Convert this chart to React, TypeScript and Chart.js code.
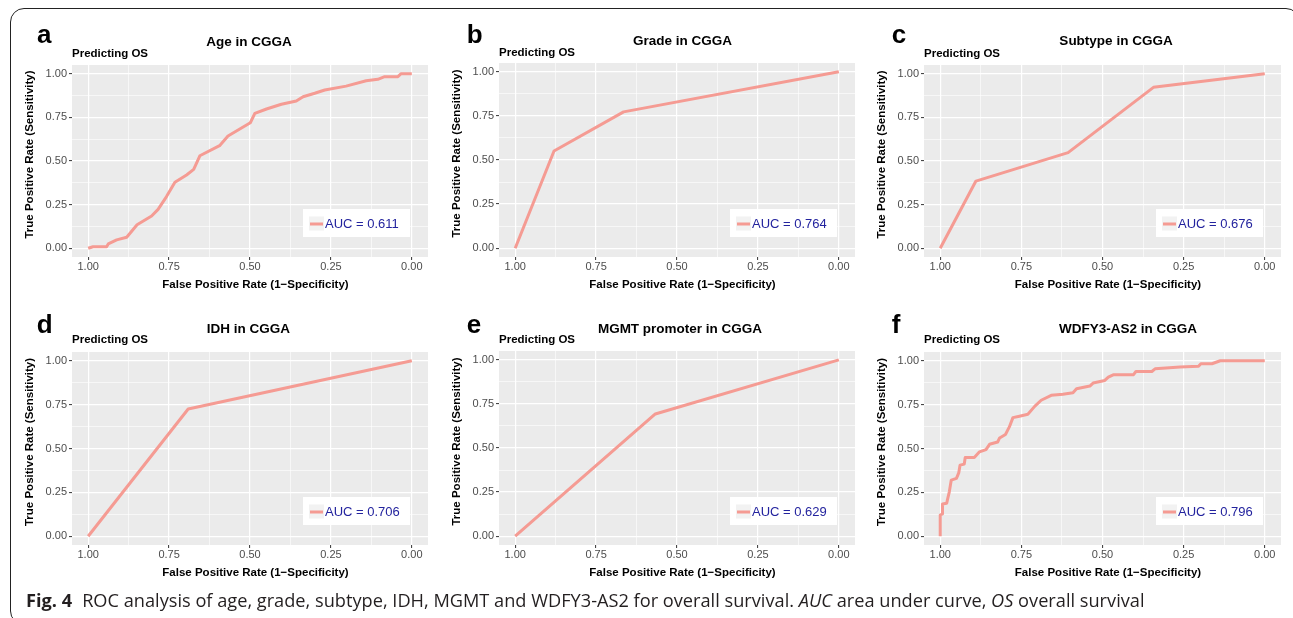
import React, { useEffect, useRef } from "react";
import { Chart, registerables } from "chart.js";

Chart.register(...registerables);

// ---------- DATA ----------
const axisTicks = [0, 0.125, 0.25, 0.375, 0.5, 0.625, 0.75, 0.875, 1];

const ageSpec = [1.0, 0.985, 0.943, 0.938, 0.912, 0.881, 0.849, 0.804, 0.784, 0.758, 0.732, 0.696, 0.674, 0.655, 0.594, 0.568, 0.499, 0.485, 0.449, 0.403, 0.357, 0.336, 0.3, 0.269, 0.203, 0.141, 0.105, 0.084, 0.043, 0.033, 0.0];
const ageSens = [0, 0.009, 0.009, 0.025, 0.048, 0.063, 0.135, 0.185, 0.223, 0.296, 0.378, 0.42, 0.452, 0.53, 0.588, 0.643, 0.719, 0.773, 0.798, 0.825, 0.844, 0.868, 0.888, 0.907, 0.929, 0.96, 0.968, 0.983, 0.983, 1.0, 1.0];

const gradeSpec = [1.0, 0.88, 0.665, 0.0];
const gradeSens = [0, 0.551, 0.773, 1.0];

const subtypeSpec = [1.0, 0.89, 0.606, 0.343, 0.0];
const subtypeSens = [0, 0.385, 0.548, 0.922, 1.0];

const idhSpec = [1.0, 0.691, 0.0];
const idhSens = [0, 0.725, 1.0];

const mgmtSpec = [1.0, 0.567, 0.0];
const mgmtSens = [0, 0.693, 1.0];

const wdfySpec = [1.0, 1.0, 0.993, 0.993, 0.98, 0.978, 0.972, 0.966, 0.95, 0.943, 0.939, 0.926, 0.923, 0.895, 0.879, 0.859, 0.848, 0.823, 0.817, 0.799, 0.787, 0.776, 0.756, 0.73, 0.709, 0.689, 0.658, 0.622, 0.591, 0.58, 0.539, 0.529, 0.493, 0.482, 0.467, 0.405, 0.397, 0.348, 0.338, 0.261, 0.204, 0.197, 0.163, 0.137, 0.0];
const wdfySens = [0, 0.121, 0.127, 0.184, 0.188, 0.206, 0.253, 0.32, 0.33, 0.361, 0.405, 0.411, 0.449, 0.449, 0.481, 0.494, 0.524, 0.537, 0.56, 0.58, 0.623, 0.676, 0.684, 0.695, 0.74, 0.775, 0.803, 0.809, 0.818, 0.841, 0.856, 0.873, 0.888, 0.907, 0.92, 0.92, 0.939, 0.939, 0.954, 0.964, 0.969, 0.983, 0.983, 1.0, 1.0];

const panelLetters = ["a", "b", "c", "d", "e", "f"];
const panelTitles = ["Age in CGGA", "Grade in CGGA", "Subtype in CGGA", "IDH in CGGA", "MGMT promoter in CGGA", "WDFY3-AS2 in CGGA"];
const aucLabels = ["AUC = 0.611", "AUC = 0.764", "AUC = 0.676", "AUC = 0.706", "AUC = 0.629", "AUC = 0.796"];
const subtitleText = "Predicting OS";
const xAxisTitle = "False Positive Rate (1\u2212Specificity)";
const yAxisTitle = "True Positive Rate (Sensitivity)";

const seriesX = [ageSpec, gradeSpec, subtypeSpec, idhSpec, mgmtSpec, wdfySpec];
const seriesY = [ageSens, gradeSens, subtypeSens, idhSens, mgmtSens, wdfySens];

// ---------- STYLE / LAYOUT ----------
const FONT = "'Liberation Sans', Arial, Helvetica, sans-serif";
const LINE_COLOR = "#F59B93";
const PANEL_BG = "#EBEBEB";
const AUC_COLOR = "#23239E";

const PAD_LEFT = 62; // y-axis width
const PAD_TOP = 60;
const PAD_RIGHT = 6;
const PAD_BOTTOM = 40; // x-axis height

const layouts = [
  { L: 72, T: 65, R: 428, B: 257, titleX: 249, titleY: 42, subY: 54, letterX: 37, letterBase: 43 },
  { L: 499, T: 63, R: 855, B: 257, titleX: 682.5, titleY: 41.7, subY: 52.7, letterX: 466.7, letterBase: 43 },
  { L: 924, T: 65, R: 1281, B: 257, titleX: 1116, titleY: 41.7, subY: 54, letterX: 891.7, letterBase: 43 },
  { L: 72, T: 352, R: 428, B: 545, titleX: 248.3, titleY: 329.3, subY: 340, letterX: 36.7, letterBase: 333 },
  { L: 499, T: 351, R: 855, B: 545, titleX: 680, titleY: 329.3, subY: 340, letterX: 466.7, letterBase: 333 },
  { L: 924, T: 352, R: 1281, B: 545, titleX: 1128, titleY: 329.3, subY: 340, letterX: 891.7, letterBase: 333 },
];

function Panel({ idx }: { idx: number }) {
  const ref = useRef<HTMLCanvasElement | null>(null);
  const lay = layouts[idx];
  const cl = lay.L - PAD_LEFT;
  const ct = lay.T - PAD_TOP;
  const cw = lay.R - lay.L + PAD_LEFT + PAD_RIGHT;
  const ch = lay.B - lay.T + PAD_TOP + PAD_BOTTOM;

  useEffect(() => {
    const canvas = ref.current;
    if (!canvas) return;
    const xs = seriesX[idx];
    const ys = seriesY[idx];

    const decor = {
      id: "panelDecor",
      beforeDraw(chart: any) {
        const { ctx, chartArea: a } = chart;
        ctx.save();
        ctx.fillStyle = PANEL_BG;
        ctx.fillRect(a.left, a.top, a.right - a.left, a.bottom - a.top);
        ctx.restore();
      },
      afterDraw(chart: any) {
        const { ctx, chartArea: a } = chart;
        ctx.save();
        // panel letter
        ctx.fillStyle = "#000";
        ctx.textBaseline = "alphabetic";
        ctx.textAlign = "left";
        ctx.font = `bold 26px ${FONT}`;
        ctx.fillText(panelLetters[idx], lay.letterX - cl, lay.letterBase - ct);
        // title
        ctx.textBaseline = "middle";
        ctx.textAlign = "center";
        ctx.font = `bold 13.5px ${FONT}`;
        ctx.fillText(panelTitles[idx], lay.titleX - cl, lay.titleY - ct);
        // subtitle
        ctx.textAlign = "left";
        ctx.font = `bold 11.5px ${FONT}`;
        ctx.fillText(subtitleText, a.left, lay.subY - ct);
        // axis titles
        ctx.textAlign = "center";
        ctx.font = `bold 11.5px ${FONT}`;
        ctx.fillText(xAxisTitle, (a.left + a.right) / 2 + 5.5, a.bottom + 28);
        ctx.save();
        ctx.translate(a.left - 42, (a.top + a.bottom) / 2 - 6.5);
        ctx.rotate(-Math.PI / 2);
        ctx.fillText(yAxisTitle, 0, 0);
        ctx.restore();
        // legend box
        const bw = 107, bh = 28;
        const bx = a.right - 18 - bw;
        const by = a.bottom - 20 - bh;
        ctx.fillStyle = "#FFFFFF";
        ctx.fillRect(bx, by, bw, bh);
        ctx.fillStyle = "#F2F2F2";
        ctx.fillRect(bx + 6, by + 7.5, 15, 14);
        ctx.strokeStyle = LINE_COLOR;
        ctx.lineWidth = 3;
        ctx.beginPath();
        ctx.moveTo(bx + 7, by + bh / 2 + 1);
        ctx.lineTo(bx + 20, by + bh / 2 + 1);
        ctx.stroke();
        ctx.fillStyle = AUC_COLOR;
        ctx.font = `13px ${FONT}`;
        ctx.textAlign = "left";
        ctx.textBaseline = "middle";
        ctx.fillText(aucLabels[idx], bx + 22, by + bh / 2 + 1);
        ctx.restore();
      },
    };

    const gridOpts = {
      color: "#FFFFFF",
      lineWidth: (c: any) => (c.index % 2 === 0 ? 1.2 : 0.6),
      tickColor: (c: any) => (c.index % 2 === 0 ? "#333333" : "rgba(0,0,0,0)"),
      tickWidth: 1,
      tickLength: 3,
      drawTicks: true,
      drawOnChartArea: true,
    };
    const tickFont = { family: FONT, size: 11 };
    const labelCb = (v: any, i: number) => (i % 2 === 0 ? Number(v).toFixed(2) : "");
    const setTicks = (s: any) => {
      s.ticks = axisTicks.map((v) => ({ value: v }));
    };

    const chart = new Chart(canvas, {
      type: "line",
      data: {
        datasets: [
          {
            data: xs.map((x, i) => ({ x, y: ys[i] })),
            borderColor: LINE_COLOR,
            borderWidth: 3,
            pointRadius: 0,
            tension: 0,
            fill: false,
            borderJoinStyle: "round",
          } as any,
        ],
      },
      options: {
        responsive: false,
        animation: false,
        devicePixelRatio: 1,
        layout: { padding: { top: PAD_TOP, right: PAD_RIGHT, left: 0, bottom: 0 } },
        plugins: { legend: { display: false }, tooltip: { enabled: false }, title: { display: false } },
        scales: {
          x: {
            type: "linear",
            reverse: true,
            min: -0.05,
            max: 1.05,
            afterBuildTicks: setTicks,
            afterFit: (s: any) => {
              s.height = PAD_BOTTOM;
            },
            grid: gridOpts as any,
            border: { display: false },
            ticks: { callback: labelCb as any, font: tickFont, color: "#4D4D4D", padding: 0, maxRotation: 0, autoSkip: false },
            title: { display: false },
          },
          y: {
            type: "linear",
            min: -0.05,
            max: 1.05,
            afterBuildTicks: setTicks,
            afterFit: (s: any) => {
              s.width = PAD_LEFT;
            },
            grid: gridOpts as any,
            border: { display: false },
            ticks: { callback: labelCb as any, font: tickFont, color: "#4D4D4D", padding: 2, autoSkip: false },
            title: { display: false },
          },
        },
      },
      plugins: [decor],
    });
    return () => chart.destroy();
  }, [idx]);

  return (
    <canvas
      ref={ref}
      width={cw}
      height={ch}
      style={{ position: "absolute", left: cl, top: ct, width: cw, height: ch }}
    />
  );
}

export default function App() {
  return (
    <div
      style={{
        position: "fixed",
        left: 0,
        top: 0,
        width: 1293,
        height: 618,
        overflow: "hidden",
        background: "#FFFFFF",
      }}
    >
      <div
        style={{
          position: "absolute",
          left: 10,
          top: 8,
          width: 1290,
          height: 617,
          border: "1.5px solid #222",
          borderRadius: 14,
          boxSizing: "border-box",
        }}
      />
      {layouts.map((_, i) => (
        <Panel key={i} idx={i} />
      ))}
      <div
        style={{
          position: "absolute",
          left: 26,
          top: 590,
          fontFamily: "'Open Sans', 'Noto Sans', sans-serif",
          fontSize: 18.2,
          lineHeight: "20px",
          color: "#231F20",
          whiteSpace: "nowrap",
        }}
      >
        <b>Fig. 4</b>
        <span style={{ marginLeft: 10 }}>
          ROC analysis of age, grade, subtype, IDH, MGMT and WDFY3-AS2 for overall survival. <i>AUC</i> area under curve, <i>OS</i> overall survival
        </span>
      </div>
    </div>
  );
}
